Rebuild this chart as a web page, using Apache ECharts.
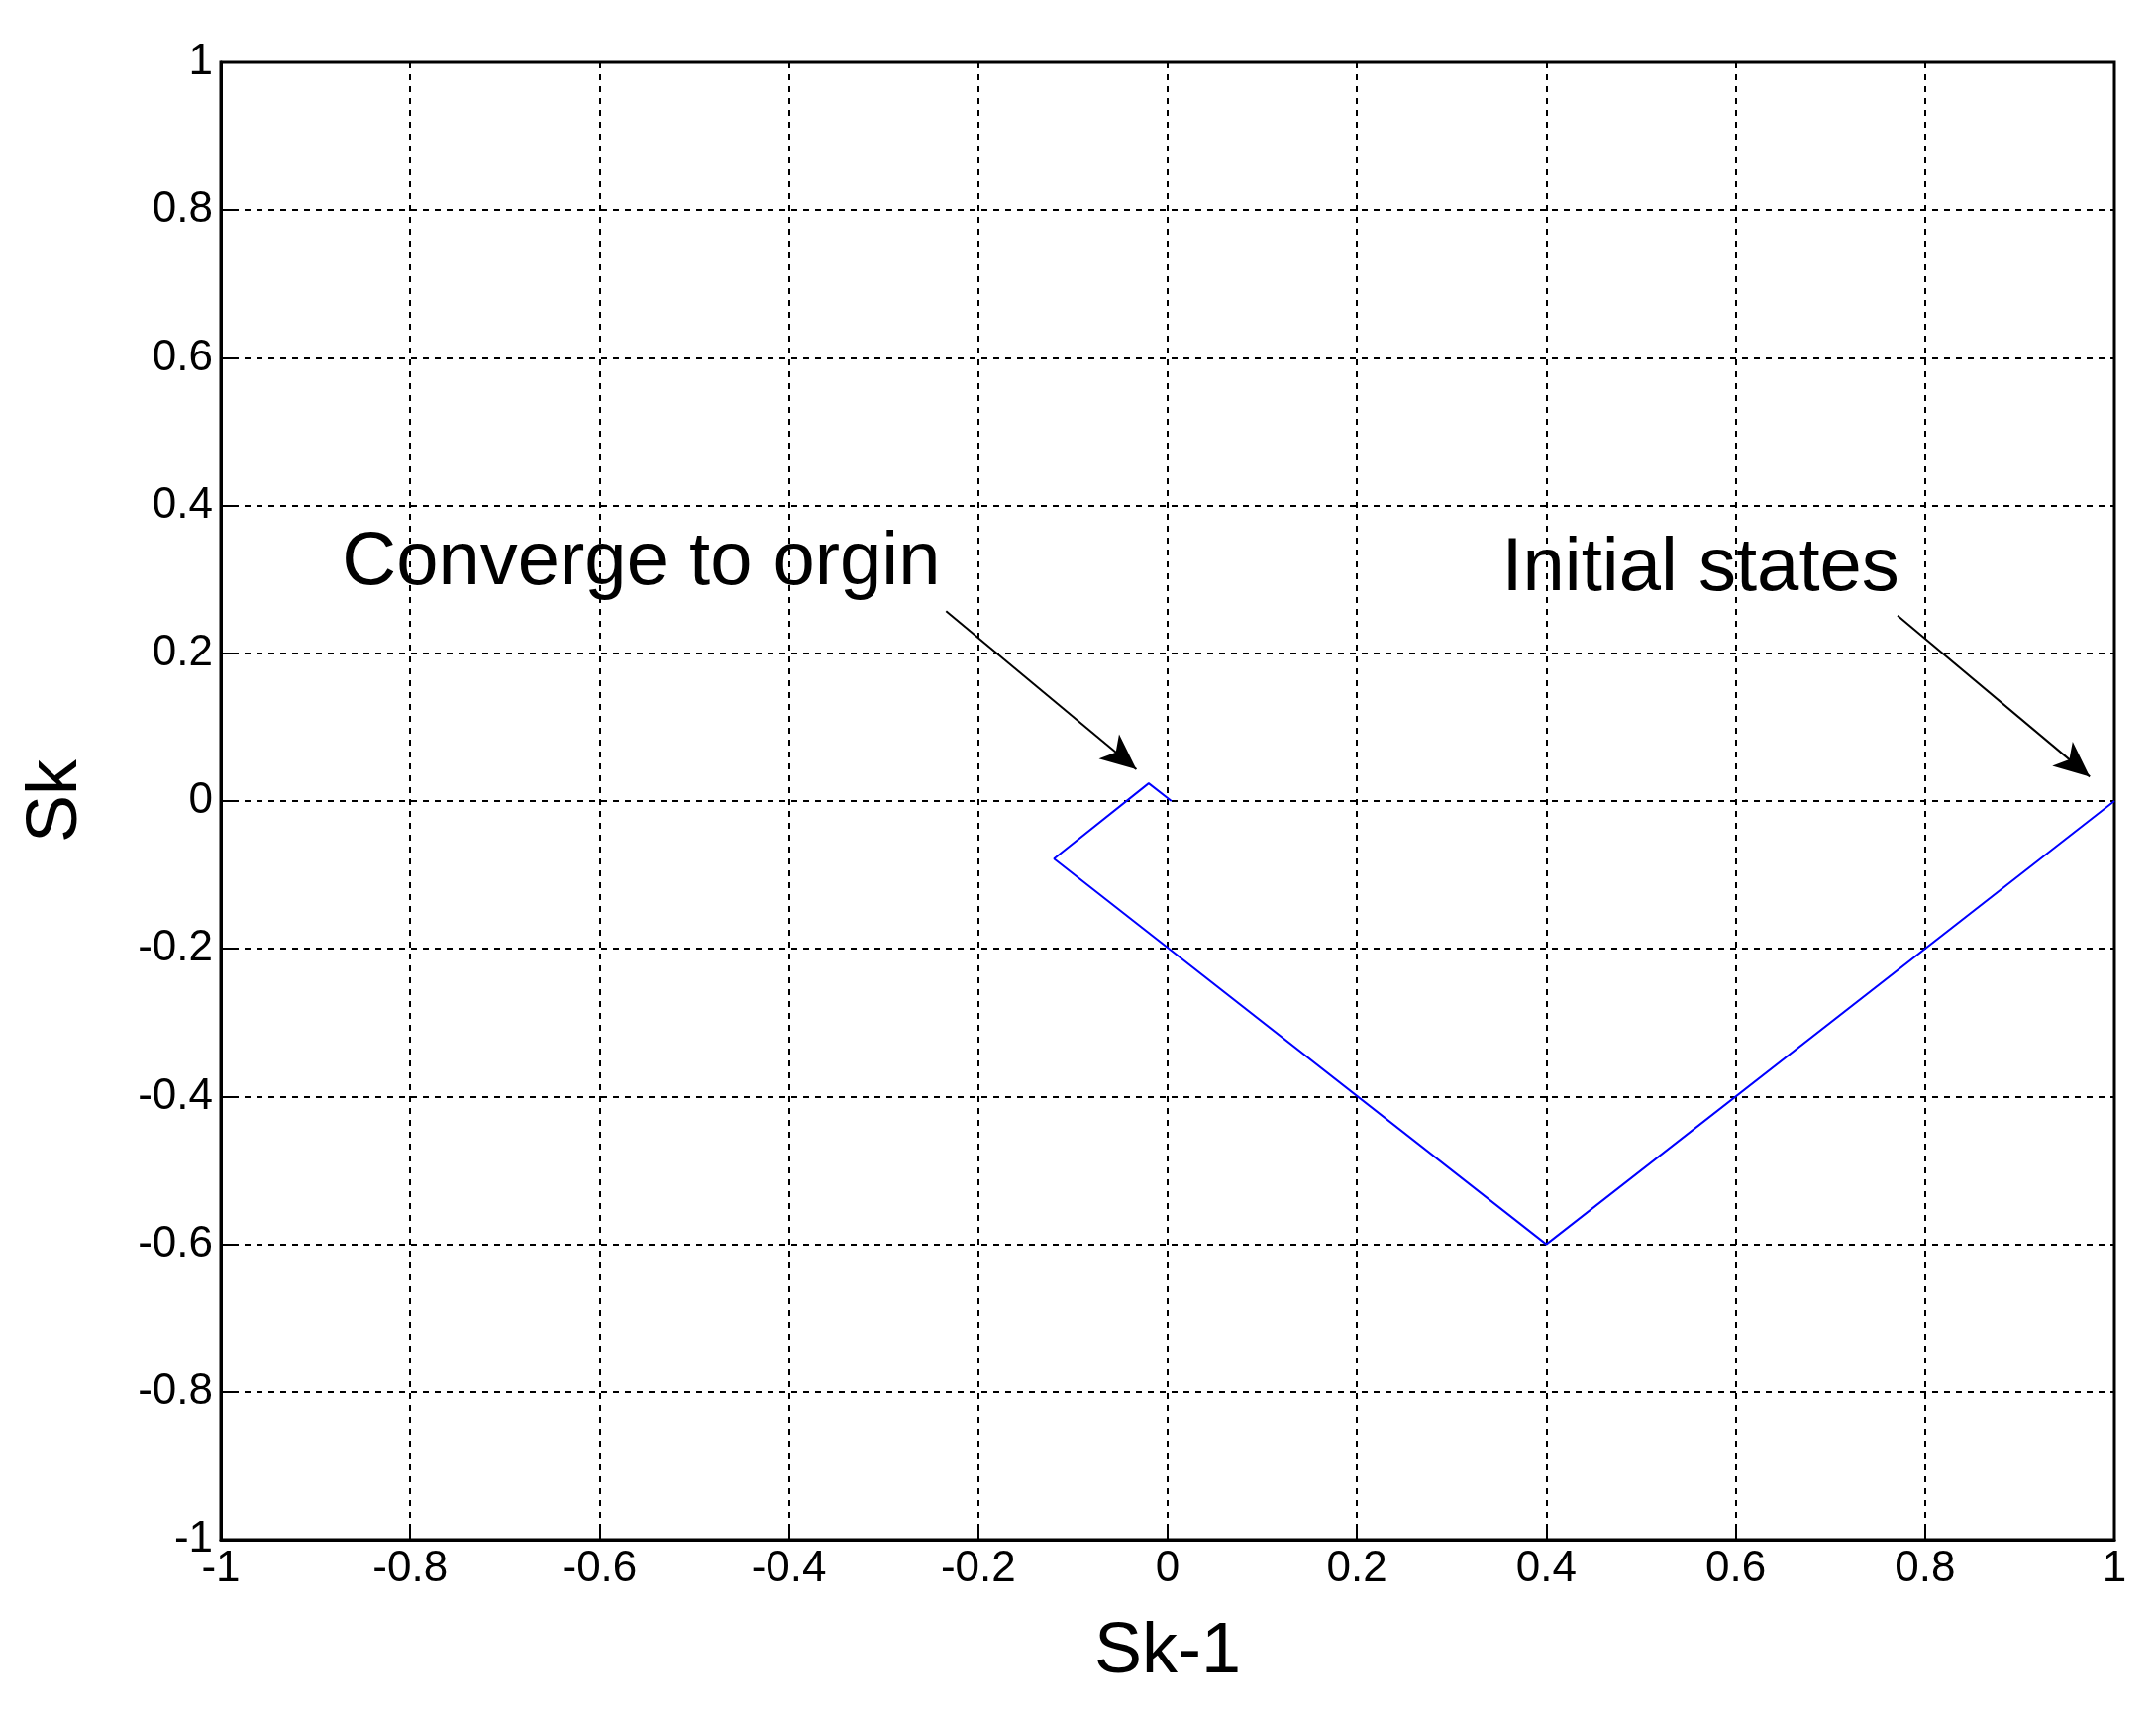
<!DOCTYPE html>
<html><head><meta charset="utf-8">
<script src="https://cdn.jsdelivr.net/npm/echarts@6/dist/echarts.min.js"></script>
<style>html,body{margin:0;background:#fff}#c{width:2177px;height:1727px}</style>
</head><body><div id="c"></div>
<script>
// trajectory in the (Sk-1, Sk) plane
const trajX = [1, 0.4, -0.12, -0.02, 0.004];
const trajY = [0, -0.6, -0.078, 0.024, 0];
const noteTexts = ['Converge to orgin', 'Initial states'];
const noteAt = [[-0.872, 0.322], [0.353, 0.313]];
const arrowFrom = [[-0.234, 0.257], [0.771, 0.251]];
const arrowTo = [[-0.033, 0.043], [0.974, 0.033]];

const chart = echarts.init(document.getElementById('c'));
const font = 'Arial, "Liberation Sans", sans-serif';
const axisCommon = {
    type: 'value', min: -1, max: 1, interval: 0.2,
    nameLocation: 'middle',
    nameTextStyle: { fontSize: 72, color: '#000', fontFamily: font },
    axisLine: { onZero: false, lineStyle: { color: '#000', width: 3 } },
    axisTick: { inside: true, length: 12, lineStyle: { color: '#000', width: 2 } },
    axisLabel: { fontSize: 44, color: '#000', fontFamily: font,
        formatter: v => String(Math.round(v * 10) / 10) },
    splitLine: { lineStyle: { color: '#000', type: [6, 6], width: 2 } }
};
chart.setOption({
    animation: false,
    grid: { left: 223, right: 42, top: 63, bottom: 172, show: true,
        borderColor: '#000', borderWidth: 3 },
    xAxis: Object.assign({}, axisCommon, { name: 'Sk-1', nameGap: 78 }),
    yAxis: Object.assign({}, axisCommon, { name: 'Sk', nameGap: 130 }),
    series: [{
        type: 'line',
        data: trajX.map((x, i) => [x, trajY[i]]),
        symbol: 'none',
        lineStyle: { color: '#0000ff', width: 2 },
        markLine: {
            silent: true,
            symbol: ['none', 'arrow'],
            symbolSize: [24, 36],
            label: { show: false },
            lineStyle: { color: '#000', width: 2, type: 'solid' },
            data: arrowFrom.map((p, i) => [{ coord: p }, { coord: arrowTo[i] }])
        }
    }]
});
chart.setOption({
    graphic: noteTexts.map((t, i) => {
        const p = chart.convertToPixel({ gridIndex: 0 }, noteAt[i]);
        return { type: 'text', x: p[0], y: p[1],
            style: { text: t, font: '76px ' + font, fill: '#000', textVerticalAlign: 'middle' } };
    })
});
</script></body></html>
